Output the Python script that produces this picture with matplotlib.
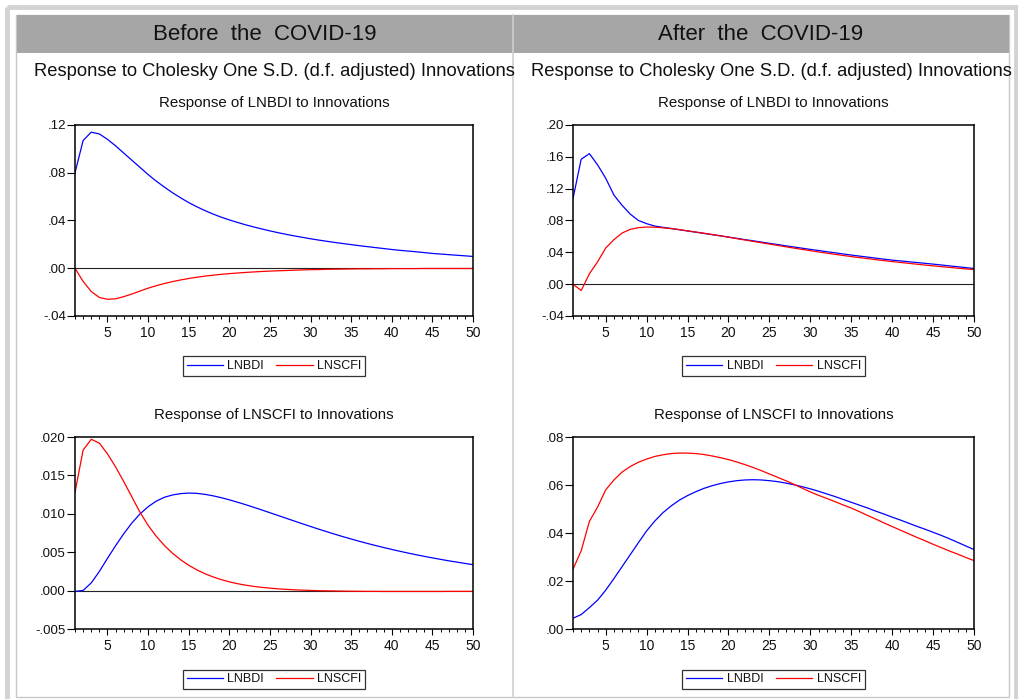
import numpy as np
import matplotlib
matplotlib.use("Agg")
import matplotlib.pyplot as plt
from matplotlib.patches import Rectangle
from matplotlib.ticker import MultipleLocator, FixedLocator, FuncFormatter

# ── Impulse responses (periods 1..50) ────────────────────────────────────────
periods = np.arange(1, 51)

pre_bdi_to_bdi = [
    0.0800, 0.1070, 0.1140, 0.1125, 0.1080, 0.1025, 0.0965, 0.0905, 0.0845, 0.0785,
    0.0730, 0.0680, 0.0633, 0.0590, 0.0550, 0.0515, 0.0483, 0.0454, 0.0428, 0.0405,
    0.0384, 0.0364, 0.0346, 0.0329, 0.0313, 0.0298, 0.0284, 0.0271, 0.0259, 0.0247,
    0.0236, 0.0226, 0.0216, 0.0207, 0.0198, 0.0189, 0.0181, 0.0173, 0.0165, 0.0157,
    0.0150, 0.0144, 0.0138, 0.0131, 0.0124, 0.0119, 0.0114, 0.0109, 0.0104, 0.0099,
]
pre_bdi_to_scfi = [
    0.0000, -0.0110, -0.0195, -0.0245, -0.0260, -0.0256, -0.0238, -0.0216, -0.0191, -0.0167,
    -0.0146, -0.0128, -0.0112, -0.0098, -0.0086, -0.0075, -0.0066, -0.0058, -0.0051, -0.0045,
    -0.0040, -0.0035, -0.0031, -0.0027, -0.0024, -0.0021, -0.0019, -0.0016, -0.0014, -0.0012,
    -0.0011, -0.0009, -0.0008, -0.0007, -0.0006, -0.0005, -0.0005, -0.0004, -0.0004, -0.0003,
    -0.0003, -0.0003, -0.0003, -0.0002, -0.0002, -0.0002, -0.0002, -0.0002, -0.0002, -0.0002,
]
pre_scfi_to_bdi = [
    -0.00010, 0.00002, 0.00100, 0.00250, 0.00420, 0.00585, 0.00740, 0.00880, 0.00998, 0.01092,
    0.01165, 0.01215, 0.01245, 0.01263, 0.01270, 0.01266, 0.01253, 0.01234, 0.01210, 0.01182,
    0.01151, 0.01119, 0.01085, 0.01050, 0.01014, 0.00978, 0.00942, 0.00906, 0.00870, 0.00835,
    0.00800, 0.00767, 0.00734, 0.00702, 0.00672, 0.00642, 0.00614, 0.00587, 0.00561, 0.00536,
    0.00512, 0.00489, 0.00467, 0.00446, 0.00426, 0.00407, 0.00388, 0.00371, 0.00354, 0.00338,
]
pre_scfi_to_scfi = [
    0.01280, 0.01830, 0.01970, 0.01920, 0.01780, 0.01610, 0.01420, 0.01220, 0.01020, 0.00850,
    0.00708, 0.00588, 0.00487, 0.00402, 0.00330, 0.00270, 0.00220, 0.00178, 0.00143, 0.00114,
    0.00090, 0.00071, 0.00055, 0.00042, 0.00032, 0.00023, 0.00016, 0.00010, 0.00006, 0.00002,
    -0.00001, -0.00003, -0.00005, -0.00007, -0.00008, -0.00009, -0.00010, -0.00010, -0.00011, -0.00011,
    -0.00011, -0.00011, -0.00011, -0.00011, -0.00011, -0.00011, -0.00010, -0.00010, -0.00010, -0.00010,
]

post_bdi_to_bdi = [
    0.1076, 0.1570, 0.1640, 0.1500, 0.1330, 0.1120, 0.0990, 0.0880, 0.0800, 0.0760,
    0.0730, 0.0714, 0.0700, 0.0684, 0.0668, 0.0653, 0.0638, 0.0622, 0.0607, 0.0592,
    0.0576, 0.0560, 0.0545, 0.0529, 0.0513, 0.0498, 0.0482, 0.0467, 0.0452, 0.0437,
    0.0423, 0.0408, 0.0394, 0.0380, 0.0366, 0.0353, 0.0340, 0.0327, 0.0314, 0.0302,
    0.0292, 0.0282, 0.0272, 0.0262, 0.0252, 0.0241, 0.0230, 0.0219, 0.0208, 0.0197,
]
post_bdi_to_scfi = [
    0.0000, -0.0080, 0.0130, 0.0280, 0.0454, 0.0559, 0.0643, 0.0689, 0.0710, 0.0718,
    0.0716, 0.0708, 0.0698, 0.0685, 0.0670, 0.0655, 0.0640, 0.0624, 0.0608, 0.0590,
    0.0572, 0.0555, 0.0538, 0.0521, 0.0504, 0.0487, 0.0470, 0.0453, 0.0437, 0.0421,
    0.0405, 0.0390, 0.0375, 0.0361, 0.0347, 0.0334, 0.0321, 0.0308, 0.0296, 0.0284,
    0.0273, 0.0262, 0.0251, 0.0240, 0.0230, 0.0220, 0.0211, 0.0201, 0.0192, 0.0183,
]
post_scfi_to_bdi = [
    0.0045, 0.0060, 0.0089, 0.0120, 0.0162, 0.0210, 0.0260, 0.0310, 0.0360, 0.0409,
    0.0450, 0.0485, 0.0513, 0.0537, 0.0556, 0.0572, 0.0586, 0.0597, 0.0606, 0.0613,
    0.0618, 0.0621, 0.0622, 0.0621, 0.0618, 0.0614, 0.0608, 0.0601, 0.0593, 0.0584,
    0.0574, 0.0563, 0.0552, 0.0540, 0.0528, 0.0516, 0.0504, 0.0491, 0.0479, 0.0466,
    0.0454, 0.0441, 0.0428, 0.0416, 0.0403, 0.0390, 0.0376, 0.0361, 0.0346, 0.0331,
]
post_scfi_to_scfi = [
    0.0249, 0.0326, 0.0448, 0.0508, 0.0580, 0.0621, 0.0654, 0.0677, 0.0695, 0.0708,
    0.0719, 0.0726, 0.0731, 0.0733, 0.0733, 0.0731, 0.0727, 0.0721, 0.0714, 0.0706,
    0.0696, 0.0685, 0.0673, 0.0660, 0.0646, 0.0632, 0.0618, 0.0603, 0.0587, 0.0571,
    0.0557, 0.0544, 0.0531, 0.0517, 0.0504, 0.0489, 0.0473, 0.0458, 0.0442, 0.0427,
    0.0412, 0.0397, 0.0382, 0.0368, 0.0353, 0.0339, 0.0325, 0.0312, 0.0298, 0.0285,
]

series_names = ["LNBDI", "LNSCFI"]
column_titles = ["Before the COVID-19", "After the COVID-19"]
main_title = "Response to Cholesky One S.D. (d.f. adjusted) Innovations"
panel_titles = ["Response of LNBDI to Innovations", "Response of LNSCFI to Innovations"]

y_ranges = {
    (0, 0): ([-0.04, 0.00, 0.04, 0.08, 0.12], 2),
    (1, 0): ([-0.005, 0.000, 0.005, 0.010, 0.015, 0.020], 3),
    (0, 1): ([-0.04, 0.00, 0.04, 0.08, 0.12, 0.16, 0.20], 2),
    (1, 1): ([0.00, 0.02, 0.04, 0.06, 0.08], 2),
}
panel_data = {
    (0, 0): (pre_bdi_to_bdi, pre_bdi_to_scfi),
    (1, 0): (pre_scfi_to_bdi, pre_scfi_to_scfi),
    (0, 1): (post_bdi_to_bdi, post_bdi_to_scfi),
    (1, 1): (post_scfi_to_bdi, post_scfi_to_scfi),
}

BLUE = "#0000FF"
RED = "#FF0000"
INK = "#111111"
W, H = 1018, 699

plt.rcParams["font.family"] = ["Liberation Sans", "DejaVu Sans"]

fig = plt.figure(figsize=(W / 100, H / 100), dpi=100)
fig.patch.set_facecolor("white")

# ── background "table" drawn in pixel coordinates ─────────────────────────────
bg = fig.add_axes([0, 0, 1, 1], zorder=0)
bg.set_xlim(0, W)
bg.set_ylim(H, 0)
bg.axis("off")

bg.add_patch(Rectangle((7, 7), 1009, 700, fill=False, ec="#D3D3D3", lw=3.5))
bg.add_patch(Rectangle((16, 15), 993, 682, fill=False, ec="#C8C8C8", lw=1.0))
bg.add_patch(Rectangle((17, 15), 992, 38, fc="#A6A6A6", ec="none"))
bg.plot([513, 513], [15, 697], color="#D0D0D0", lw=1.2)

for cx, t in zip([265, 761], column_titles):
    bg.text(cx, 35, t.replace(" ", "  "), ha="center", va="center",
            fontsize=16, color=INK)

for cx in [274, 771]:
    bg.text(cx, 71, main_title, ha="center", va="center", fontsize=13.2, color=INK)

# ── four impulse-response panels ──────────────────────────────────────────────
ax_lefts = [75, 573]
ax_widths = [398, 401]
ax_tops = [125, 437]
ax_heights = [191, 192]

for (r, c), (blue_vals, red_vals) in panel_data.items():
    x0 = ax_lefts[c] / W
    w = ax_widths[c] / W
    y0 = 1 - (ax_tops[r] + ax_heights[r]) / H
    h = ax_heights[r] / H
    ax = fig.add_axes([x0, y0, w, h], zorder=2)

    ax.plot(periods, blue_vals, color=BLUE, lw=0.9, label=series_names[0])
    ax.plot(periods, red_vals, color=RED, lw=0.9, label=series_names[1])
    ax.axhline(0, color="#222222", lw=0.8, zorder=1)

    yt, dec = y_ranges[(r, c)]
    ax.set_xlim(1, 50)
    ax.set_ylim(yt[0], yt[-1])
    ax.yaxis.set_major_locator(FixedLocator(yt))
    ax.yaxis.set_major_formatter(
        FuncFormatter(lambda v, p, d=dec: f"{v:.{d}f}".replace("0.", ".", 1)))
    ax.xaxis.set_major_locator(MultipleLocator(5))
    ax.xaxis.set_minor_locator(MultipleLocator(1))

    ax.tick_params(axis="y", which="major", direction="out", length=5.5, width=0.8,
                   labelsize=9.5, pad=1, right=False, labelcolor=INK)
    ax.tick_params(axis="x", which="major", direction="out", length=4, width=0.8,
                   labelsize=10, pad=3, top=False, labelcolor=INK)
    ax.tick_params(axis="x", which="minor", direction="out", length=2.2, width=0.7,
                   top=False)
    for s in ax.spines.values():
        s.set_linewidth(1.1)

    ax.set_title(panel_titles[r], fontsize=10.8, pad=13, color=INK)

    leg = ax.legend(loc="center", bbox_to_anchor=(0.5, -0.262), ncol=2,
                    fontsize=9, frameon=True, fancybox=False, edgecolor="black",
                    handlelength=2.9, handletextpad=0.35, columnspacing=1.0,
                    borderpad=0.3)
    leg.get_frame().set_linewidth(0.9)
    for t in leg.get_texts():
        t.set_color(INK)

fig.savefig("out.png", dpi=100, facecolor="white")
